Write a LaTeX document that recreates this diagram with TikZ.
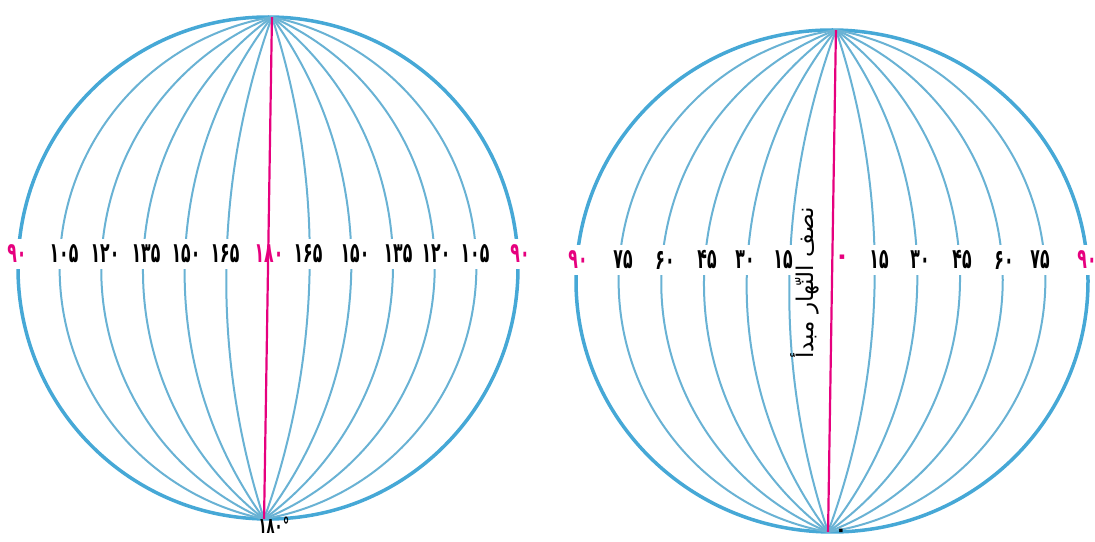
\documentclass[tikz,border=0pt]{standalone}
\usepackage{fontspec}
\TeXXeTstate=1
\newfontfamily\arabicfont[Script=Arabic]{DejaVu Sans}
\definecolor{globeblue}{RGB}{70,168,214}
\definecolor{merblue}{RGB}{105,178,212}
\definecolor{mag}{RGB}{230,0,126}
\tikzset{
  outline/.style={draw=globeblue, line width=3.5pt},
  meridian/.style={draw=merblue, line width=2pt},
  axisline/.style={draw=mag, line width=2.2pt},
  deg/.style={font=\arabicfont\bfseries\fontsize{28}{28}\selectfont, xscale=0.56, fill=white, inner xsep=2pt, inner ysep=6pt, text=black},
  degm/.style={deg, text=mag},
  vtext/.style={font=\arabicfont\fontsize{23}{23}\selectfont, rotate=90, inner sep=1pt},
}
\begin{document}
\begin{tikzpicture}[x=1pt,y=1pt]
\useasboundingbox (0,0) rectangle (1095,541);
% ---------- left globe ----------
\begin{scope}[shift={(268,273)}, rotate=-0.9]
  \draw[outline] (0,0) ellipse [x radius=250, y radius=251];
  \foreach \k in {1,...,5}{
    \pgfmathsetmacro\a{250*\k/6}
    \pgfmathsetmacro\r{\a/2 + 251*(251/\a)/2}
    \pgfmathsetmacro\t{atan2(251,\r-\a)}
    \draw[meridian] (0,251) arc[start angle=\t, end angle=-\t, radius=\r];
    \draw[meridian] (0,251) arc[start angle=180-\t, end angle=180+\t, radius=\r];
  }
  \coordinate (LN) at (0,251);
  \coordinate (LS) at (0,-251);
\end{scope}
% ---------- right globe ----------
\begin{scope}[shift={(832,260)}, rotate=-0.9]
  \draw[outline] (0,0) ellipse [x radius=256, y radius=251];
  \foreach \k in {1,...,5}{
    \pgfmathsetmacro\a{256*\k/6}
    \pgfmathsetmacro\r{\a/2 + 251*(251/\a)/2}
    \pgfmathsetmacro\t{atan2(251,\r-\a)}
    \draw[meridian] (0,251) arc[start angle=\t, end angle=-\t, radius=\r];
    \draw[meridian] (0,251) arc[start angle=180-\t, end angle=180+\t, radius=\r];
  }
  \coordinate (RN) at (0,251);
  \coordinate (RS) at (0,-251);
\end{scope}
% ---------- left labels ----------
\node[degm] (l90a) at (17,287) {۹۰};
\node[deg] (l105a) at (64,287) {۱۰۵};
\node[deg] (l120a) at (105,287) {۱۲۰};
\node[deg] (l135a) at (146,287) {۱۳۵};
\node[deg] (l150a) at (186,287) {۱۵۰};
\node[deg] (l165a) at (225,287) {۱۶۵};
\node[degm] (l180) at (269,287) {۱۸۰};
\node[deg] (l165b) at (308,287) {۱۶۵};
\node[deg] (l150b) at (355,287) {۱۵۰};
\node[deg] (l135b) at (398,287) {۱۳۵};
\node[deg] (l120b) at (436,287) {۱۲۰};
\node[deg] (l105b) at (475,287) {۱۰۵};
\node[degm] (l90b) at (520,287) {۹۰};
% ---------- right labels ----------
\node[degm] (r90a) at (578,281) {۹۰};
\node[deg] (r75a) at (623,281) {۷۵};
\node[deg] (r60a) at (665,281) {۶۰};
\node[deg] (r45a) at (707,281) {۴۵};
\node[deg] (r30a) at (745,281) {۳۰};
\node[deg] (r15a) at (783,281) {۱۵};
\node[deg] (r15b) at (879,281) {۱۵};
\node[deg] (r30b) at (920,281) {۳۰};
\node[deg] (r45b) at (962,281) {۴۵};
\node[deg] (r60b) at (1004,281) {۶۰};
\node[deg] (r75b) at (1040,281) {۷۵};
\node[degm] (r90b) at (1087,281) {۹۰};
% ---------- central meridians ----------
\draw[axisline] (LN) -- (LS);
\draw[axisline] (RN) -- (RS);
\node[font=\arabicfont\bfseries\fontsize{26}{26}\selectfont, text=mag, inner sep=1pt] (r0) at (842,281) {۰};
\node[vtext] (prime) at (805,258) {\arabicfont\beginR نصف النّهار مبدأ\endR};
% ---------- bottom labels ----------
\node[font=\arabicfont\bfseries\fontsize{22}{22}\selectfont, xscale=0.6, inner sep=1pt] (b180) at (274,16) {۱۸۰°};
\node[font=\arabicfont\bfseries\fontsize{20}{20}\selectfont, inner sep=1pt] (b0) at (841,8) {۰};
\end{tikzpicture}
\end{document}
